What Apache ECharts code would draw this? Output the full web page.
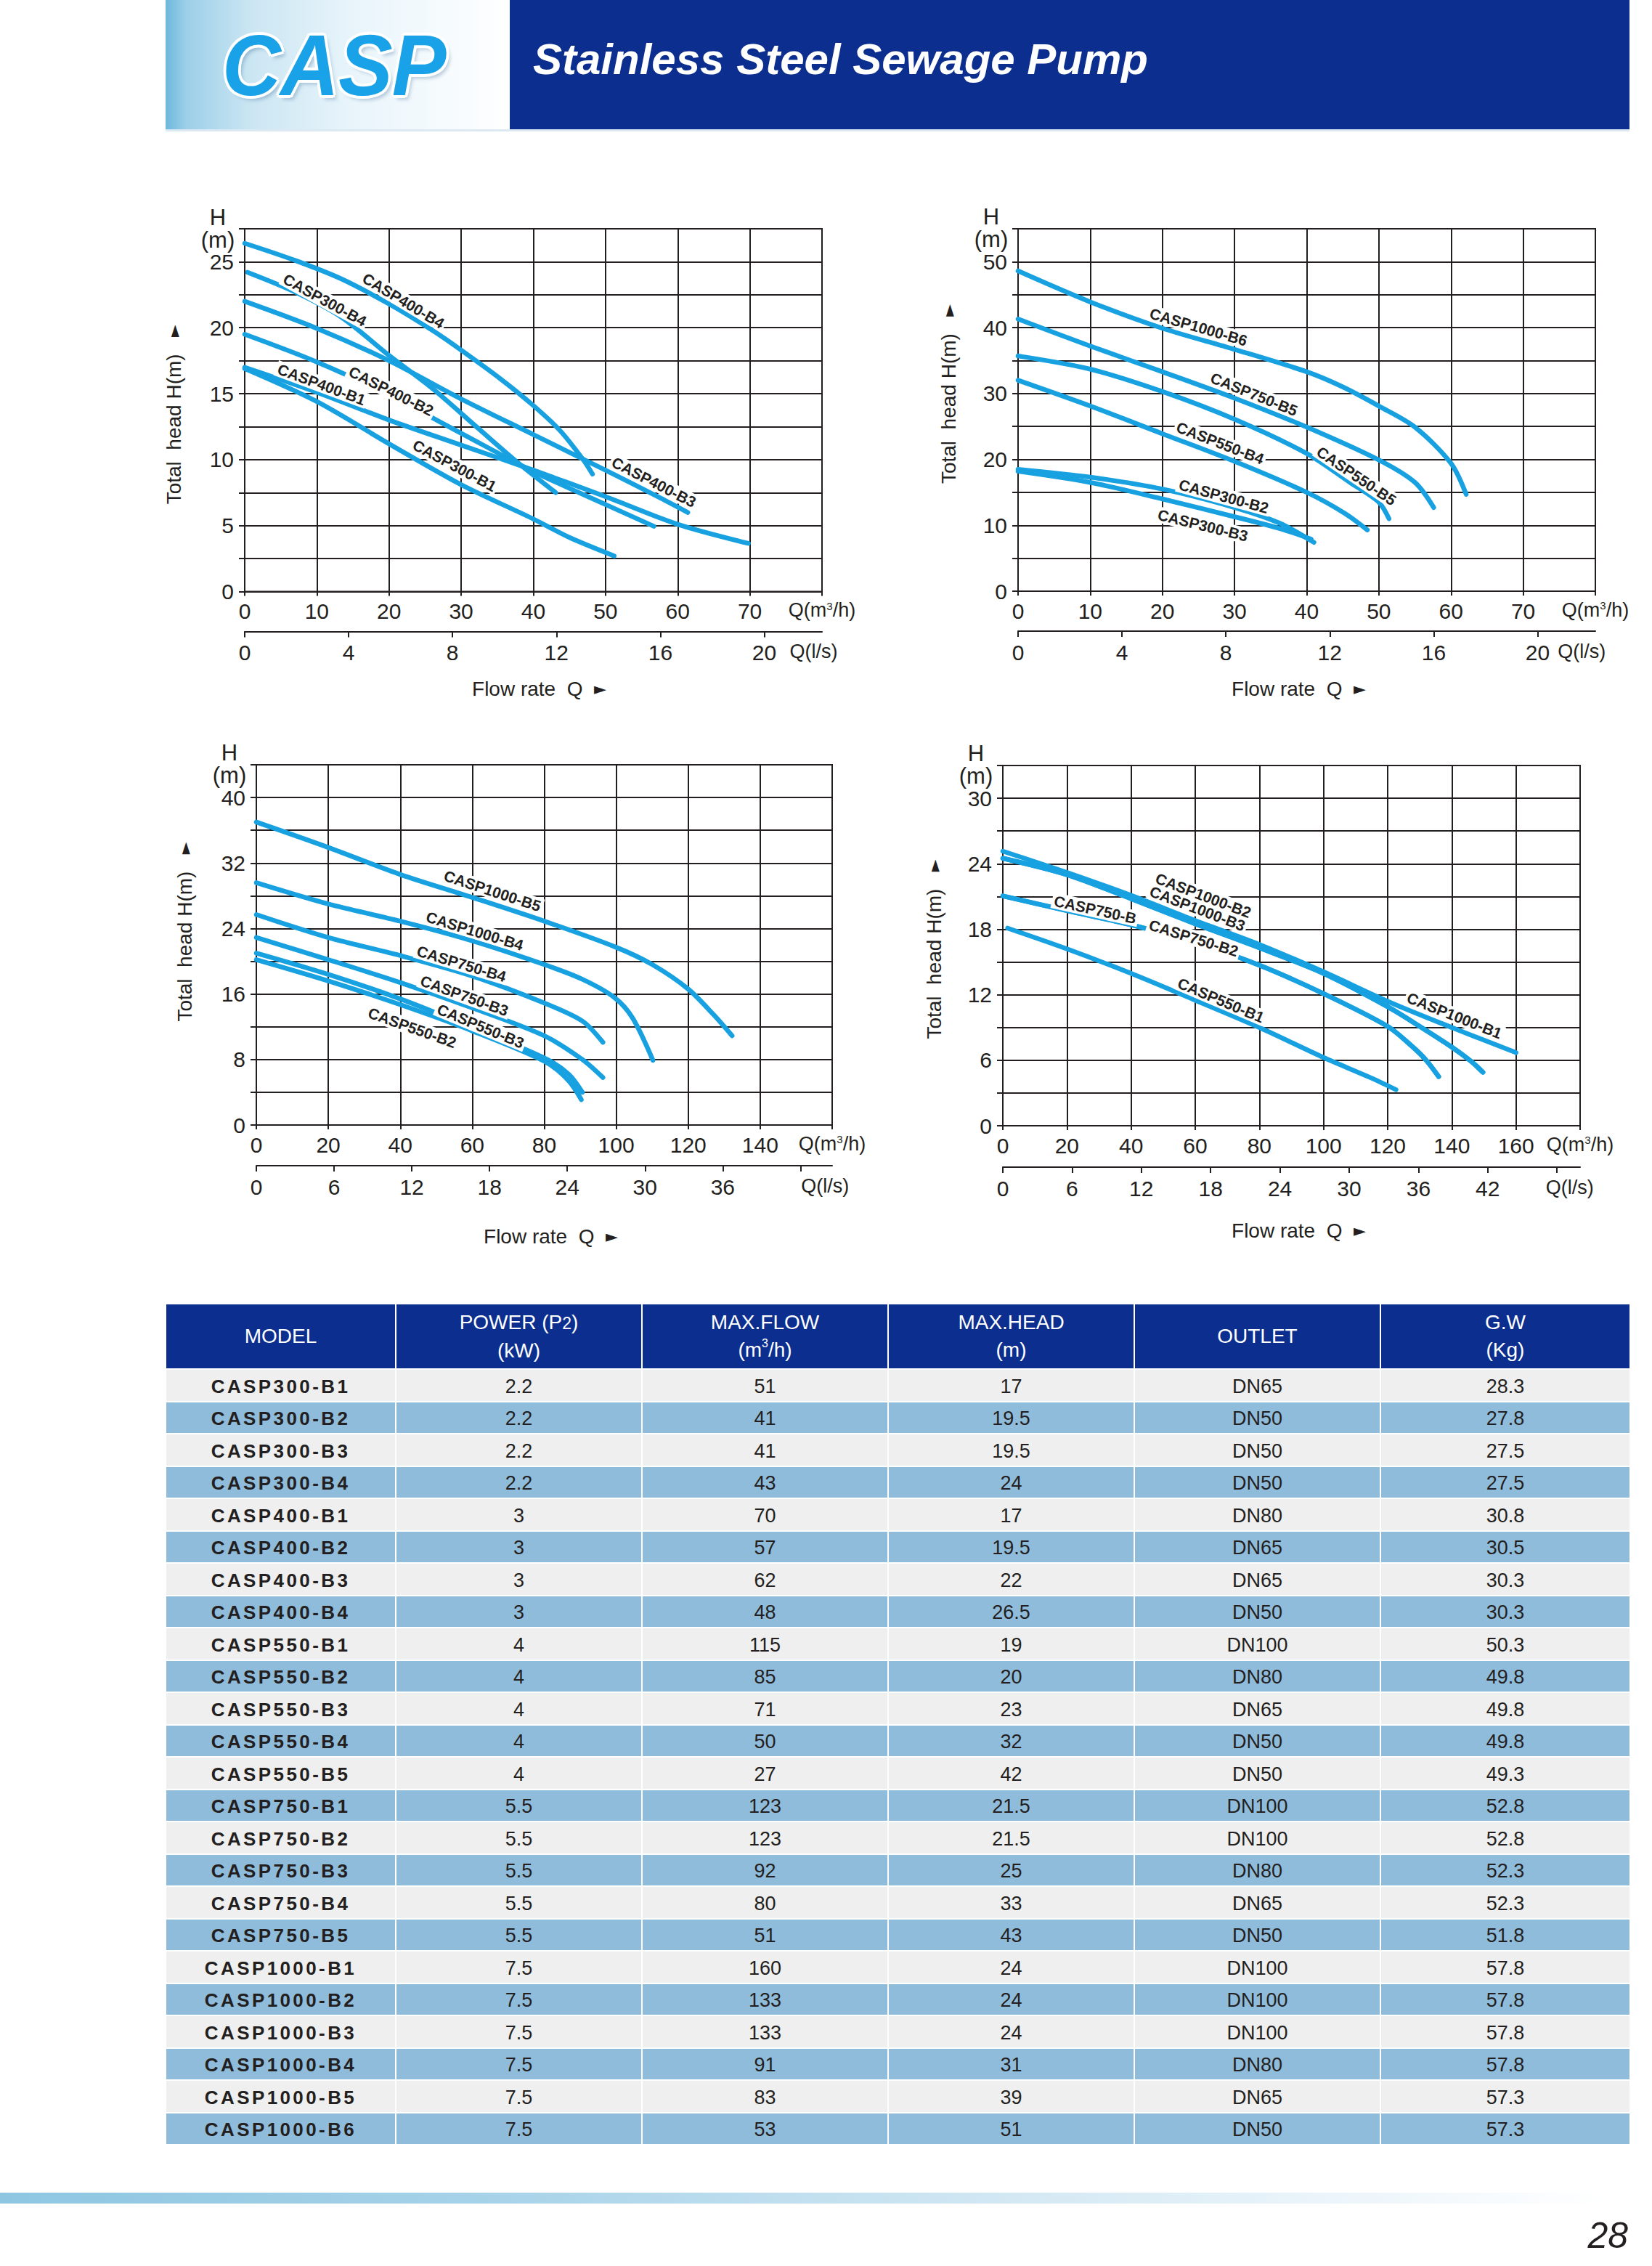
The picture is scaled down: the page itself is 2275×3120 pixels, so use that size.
<!DOCTYPE html>
<html><head><meta charset="utf-8">
<script src="https://cdn.jsdelivr.net/npm/echarts@6/dist/echarts.min.js"></script>
<style>
html,body{margin:0;padding:0;background:#fff;}
#page{position:relative;width:2275px;height:3120px;overflow:hidden;font-family:'Liberation Sans',Arial,Helvetica,sans-serif;color:#231f20;}
.hgrad{position:absolute;left:228px;top:0;width:474px;height:178px;background:linear-gradient(90deg,#6db7dc 0%,#9ccfe8 6%,#cbe6f3 25%,#e9f5fb 55%,#ffffff 100%);}
.hbar{position:absolute;left:702px;top:0;width:1542px;height:178px;background:#0c2f8f;}
.hline{position:absolute;left:228px;top:178px;width:2016px;height:3px;background:#dce8f2;}
.casp{position:absolute;left:306px;top:32px;font-size:118px;line-height:116px;font-weight:bold;font-style:italic;color:#1aa2e8;letter-spacing:-1px;transform:scaleX(0.95);transform-origin:left top;
 text-shadow:4px 0 0 #fff,-4px 0 0 #fff,0 4px 0 #fff,0 -4px 0 #fff,3px 3px 0 #fff,-3px -3px 0 #fff,3px -3px 0 #fff,-3px 3px 0 #fff,5px 6px 6px rgba(0,60,120,0.25);}
.htitle{position:absolute;left:734px;top:52px;font-size:60px;line-height:60px;font-weight:bold;font-style:italic;color:#fff;white-space:nowrap;}
#chart{position:absolute;left:0;top:0;width:2275px;height:1760px;}
#tbl{position:absolute;left:229px;top:1796px;width:2015px;display:grid;grid-template-columns:315px 337px 337px 337px 337px 342px;grid-template-rows:88px repeat(24,42.5px);gap:2px;background:#fff;}
.th{background:#0c2f8f;color:#fff;font-size:28px;line-height:38px;display:flex;align-items:center;justify-content:center;text-align:center;}
.th .p2{font-size:23px;}
.th sup{font-size:16px;vertical-align:top;line-height:16px;position:relative;top:2px;}
.td{display:flex;align-items:center;justify-content:center;font-size:27px;color:#231f20;padding-top:4px;box-sizing:border-box;}
.r0{background:#efefef;}
.r1{background:#90bcdc;}
.model{font-weight:bold;font-size:26px;letter-spacing:3.4px;}
.fbar{position:absolute;left:0;top:3019px;width:2215px;height:15px;background:linear-gradient(90deg,#8ec6e1 0%,#a6d2e8 30%,#cfe6f2 60%,#eef6fb 85%,#ffffff 100%);}
.pno{position:absolute;right:33px;top:3053px;font-size:50px;line-height:50px;font-style:italic;color:#231f20;}
</style></head>
<body><div id="page">
<div class="hgrad"></div>
<div class="casp">CASP</div>
<div class="hbar"></div>
<div class="hline"></div>
<div class="htitle">Stainless Steel Sewage Pump</div>
<div id="chart"></div>
<div id="tbl"></div>
<div class="fbar"></div>
<div class="pno">28</div>
</div>
<script>
// ---------------- DATA ----------------
// Chart 1 (top-left): Q m3/h vs H m
const c1_CASP400_B4 = [[0,26.4],[7,25.1],[13.4,23.7],[20,21.8],[26,19.8],[30,18.3],[35.5,16.1],[40,14.1],[43.7,12.2],[46.9,10.0],[48.2,8.9]];
const c1_CASP300_B4 = [[0.4,24.2],[7,22.7],[13.4,20.8],[20,17.9],[26,15.4],[32.3,12.4],[38,9.7],[43.1,7.5]];
const c1_CASP400_B3 = [[0,22.0],[10,19.95],[20,17.5],[30,14.6],[40,11.9],[50,9.2],[57.6,7.1],[61.4,6.0]];
const c1_CASP400_B2 = [[0,19.5],[10,17.4],[20,14.9],[30,12.0],[40,9.1],[50,6.6],[56.7,4.95]];
const c1_CASP400_B1 = [[0,17.0],[10,15.1],[20,13.0],[30,11.1],[40,9.2],[50,7.2],[60,5.1],[69.8,3.65]];
const c1_CASP300_B1 = [[0,16.9],[10,14.4],[20,11.2],[30,8.1],[40,5.5],[45,4.1],[51.2,2.7]];
// Chart 2 (top-right)
const c2_CASP1000_B6 = [[0,48.6],[10,43.9],[20,39.9],[30,36.7],[40,33.3],[45,31.0],[50,28.1],[55,24.9],[60,19.4],[62.1,14.7]];
const c2_CASP750_B5 = [[0,41.3],[10,37.2],[20,33.3],[30,29.3],[40,24.9],[50,19.9],[55,16.5],[57.6,12.7]];
const c2_CASP550_B5 = [[0,35.7],[10,33.7],[20,30.3],[30,26.1],[40,20.9],[46,16.5],[50,13.5],[51.4,11.0]];
const c2_CASP550_B4 = [[0,32.0],[10,28.1],[20,23.9],[30,19.7],[40,15.0],[45.3,11.8],[48.4,9.3]];
const c2_CASP300_B2 = [[0,18.5],[10,17.3],[20,15.5],[30,12.7],[36.3,10.3],[41,7.4]];
const c2_CASP300_B3 = [[0,18.2],[10,16.5],[20,14.0],[30,11.3],[36.3,9.5],[40.6,7.9]];
// Chart 3 (bottom-left)
const c3_CASP1000_B5 = [[0,37.0],[20,33.9],[40,30.6],[60,27.8],[80,24.9],[100,21.7],[110,19.6],[120,16.6],[127,13.5],[132.2,10.9]];
const c3_CASP1000_B4 = [[0,29.6],[20,27.0],[40,24.9],[60,22.5],[80,19.6],[90.6,17.8],[99.4,15.6],[104.5,13.1],[110.2,7.9]];
const c3_CASP750_B4 = [[0,25.7],[20,22.9],[40,20.7],[60,18.2],[80,14.9],[90.6,12.7],[96.3,10.1]];
const c3_CASP750_B3 = [[0,22.9],[20,20.2],[40,17.4],[60,14.3],[80,10.9],[90.6,8.0],[96.3,5.8]];
const c3_CASP550_B3 = [[0,21.0],[20,18.4],[40,15.4],[60,11.9],[80,8.2],[86.8,6.2],[90.6,4.0]];
const c3_CASP550_B2 = [[0,20.2],[20,17.6],[40,14.7],[60,11.5],[80,7.8],[86.8,5.4],[90.3,3.1]];
// Chart 4 (bottom-right)
const c4_CASP1000_B1 = [[0,25.15],[20,23.2],[40,21.1],[60,18.8],[80,16.6],[100,14.1],[120,11.4],[140,9.0],[160,6.7]];
const c4_CASP1000_B2 = [[0,24.5],[20,23.0],[40,20.8],[60,18.5],[80,16.3],[100,13.95],[120,10.9],[130,9.1],[140,7.2],[146,5.9],[149.7,4.9]];
const c4_CASP1000_B3 = c4_CASP1000_B2;
const c4_CASP750_B1 = [[0,21.05],[20,19.7],[40,18.4],[60,16.8],[80,14.7],[100,12.1],[120,9.1],[127.5,7.3],[132,6.0],[135.9,4.5]];
const c4_CASP750_B2 = c4_CASP750_B1;
const c4_CASP550_B1 = [[1.5,18.1],[20,16.2],[40,13.95],[60,11.5],[80,9.0],[100,6.25],[114.7,4.4],[122.6,3.3]];

// curve label anchors: [text, series, x, y]
const c1Labels = [['CASP400-B4','CASP400-B4',22.0,22.05],['CASP300-B4','CASP300-B4',11.1,22.1],['CASP400-B2','CASP400-B2',20.3,15.2],['CASP400-B1','CASP400-B1',10.65,15.7],['CASP300-B1','CASP300-B1',29.1,9.55],['CASP400-B3','CASP400-B3',56.7,8.3]];
const c2Labels = [['CASP1000-B6','CASP1000-B6',25.0,40.1],['CASP750-B5','CASP750-B5',32.7,29.9],['CASP550-B4','CASP550-B4',28.0,22.5],['CASP550-B5','CASP550-B5',46.9,17.5],['CASP300-B2','CASP300-B2',28.5,14.4],['CASP300-B3','CASP300-B3',25.6,10.0]];
const c3Labels = [['CASP1000-B5','CASP1000-B5',65.6,28.6],['CASP1000-B4','CASP1000-B4',60.7,23.7],['CASP750-B4','CASP750-B4',57.0,19.7],['CASP750-B3','CASP750-B3',57.8,15.8],['CASP550-B3','CASP550-B3',62.3,12.1],['CASP550-B2','CASP550-B2',43.3,11.9]];
const c4Labels = [['CASP1000-B2','CASP1000-B2',62.5,21.1],['CASP1000-B3','CASP1000-B3',60.7,19.9],['CASP750-B','CASP750-B1',28.8,19.8],['CASP750-B2','CASP750-B2',59.5,17.2],['CASP550-B1','CASP550-B1',68.0,11.5],['CASP1000-B1','CASP1000-B1',140.8,10.1]];

// table data
const models = ['CASP300-B1','CASP300-B2','CASP300-B3','CASP300-B4','CASP400-B1','CASP400-B2','CASP400-B3','CASP400-B4','CASP550-B1','CASP550-B2','CASP550-B3','CASP550-B4','CASP550-B5','CASP750-B1','CASP750-B2','CASP750-B3','CASP750-B4','CASP750-B5','CASP1000-B1','CASP1000-B2','CASP1000-B3','CASP1000-B4','CASP1000-B5','CASP1000-B6'];
const power = ['2.2','2.2','2.2','2.2','3','3','3','3','4','4','4','4','4','5.5','5.5','5.5','5.5','5.5','7.5','7.5','7.5','7.5','7.5','7.5'];
const maxFlow = ['51','41','41','43','70','57','62','48','115','85','71','50','27','123','123','92','80','51','160','133','133','91','83','53'];
const maxHead = ['17','19.5','19.5','24','17','19.5','22','26.5','19','20','23','32','42','21.5','21.5','25','33','43','24','24','24','31','39','51'];
const outlet = ['DN65','DN50','DN50','DN50','DN80','DN65','DN65','DN50','DN100','DN80','DN65','DN50','DN50','DN100','DN100','DN80','DN65','DN50','DN100','DN100','DN100','DN80','DN65','DN50'];
const gw = ['28.3','27.8','27.5','27.5','30.8','30.5','30.3','30.3','50.3','49.8','49.8','49.8','49.3','52.8','52.8','52.3','52.3','51.8','57.8','57.8','57.8','57.8','57.3','57.3'];
const headers = ['MODEL','POWER (P<span class="p2">2</span>)<br>(kW)','MAX.FLOW<br>(m<sup>3</sup>/h)','MAX.HEAD<br>(m)','OUTLET','G.W<br>(Kg)'];

// ---------------- LAYOUT ----------------
const charts = [
 {grid:{left:337,top:315,width:795,height:499.5}, xMax:80, xInt:10, yMax:27.5, yInt:2.5, yStep:5, lsInt:4, lsTickMax:20, lsLabelMax:20, lsQ:21.9, lsOffset:55,
  curves:[['CASP400-B4',c1_CASP400_B4],['CASP300-B4',c1_CASP300_B4],['CASP400-B3',c1_CASP400_B3],['CASP400-B2',c1_CASP400_B2],['CASP400-B1',c1_CASP400_B1],['CASP300-B1',c1_CASP300_B1]],
  labels:c1Labels, yTitle:[-98,6], flow:[8,133.5]},
 {grid:{left:1402,top:315,width:795,height:499}, xMax:80, xInt:10, yMax:55, yInt:5, yStep:10, lsInt:4, lsTickMax:20, lsLabelMax:20, lsQ:21.7, lsOffset:55,
  curves:[['CASP1000-B6',c2_CASP1000_B6],['CASP750-B5',c2_CASP750_B5],['CASP550-B5',c2_CASP550_B5],['CASP550-B4',c2_CASP550_B4],['CASP300-B2',c2_CASP300_B2],['CASP300-B3',c2_CASP300_B3]],
  labels:c2Labels, yTitle:[-96,-22], flow:[-11,134]},
 {grid:{left:353,top:1053,width:793,height:496}, xMax:160, xInt:20, yMax:44, yInt:4, yStep:8, lsInt:6, lsTickMax:42, lsLabelMax:36, lsQ:43.9, lsOffset:56,
  curves:[['CASP1000-B5',c3_CASP1000_B5],['CASP1000-B4',c3_CASP1000_B4],['CASP750-B4',c3_CASP750_B4],['CASP750-B3',c3_CASP750_B3],['CASP550-B3',c3_CASP550_B3],['CASP550-B2',c3_CASP550_B2]],
  labels:c3Labels, yTitle:[-99,-18], flow:[9,153]},
 {grid:{left:1381,top:1054,width:795,height:496}, xMax:180, xInt:20, yMax:33, yInt:3, yStep:6, lsInt:6, lsTickMax:48, lsLabelMax:42, lsQ:49.1, lsOffset:57,
  curves:[['CASP1000-B1',c4_CASP1000_B1],['CASP1000-B2',c4_CASP1000_B2],['CASP1000-B3',c4_CASP1000_B3],['CASP750-B1',c4_CASP750_B1],['CASP750-B2',c4_CASP750_B2],['CASP550-B1',c4_CASP550_B1]],
  labels:c4Labels, yTitle:[-95,5], flow:[10,144]}
];

const FONT = "'Liberation Sans', Arial, Helvetica, sans-serif";
const INK = '#231f20';
const BLUE = '#17a1e1';
const lineSt = {color:INK, width:2};
const rich = {q:{fontSize:27, fontFamily:FONT, color:INK}, s:{fontSize:15, fontFamily:FONT, color:INK, verticalAlign:'top', lineHeight:18}};

function interp(d, x){
  if (x <= d[0][0]) return d[0][1];
  for (let k=1;k<d.length;k++){ if (x <= d[k][0]){ const a=d[k-1], b=d[k]; return a[1]+(b[1]-a[1])*(x-a[0])/(b[0]-a[0]); } }
  return d[d.length-1][1];
}
function slopeAt(d, x, h){
  const x0 = Math.max(d[0][0], x-h), x1 = Math.min(d[d.length-1][0], x+h);
  return (interp(d,x1)-interp(d,x0))/(x1-x0);
}

const option = {animation:false, grid:[], xAxis:[], yAxis:[], series:[], graphic:[]};
charts.forEach((c,i)=>{
  option.grid.push(Object.assign({show:true, borderColor:INK, borderWidth:2, containLabel:false}, c.grid));
  option.xAxis.push({gridIndex:i, type:'value', min:0, max:c.xMax, interval:c.xInt, position:'bottom',
    axisLine:{show:true, onZero:false, lineStyle:lineSt}, axisTick:{show:true, length:6, lineStyle:lineSt},
    splitLine:{show:true, lineStyle:lineSt},
    axisLabel:{color:INK, fontSize:30, fontFamily:FONT, margin:12, showMaxLabel:true, showMinLabel:true,
      formatter:v=> v===c.xMax ? '{q|Q(m}{s|3}{q|/h)}' : String(v), rich:rich}});
  const ticks=[], labs=[];
  for (let v=0; v<=c.lsTickMax+1e-9; v+=c.lsInt){ ticks.push(v); if (v<=c.lsLabelMax+1e-9) labs.push(v); }
  labs.push(c.lsQ);
  option.xAxis.push({gridIndex:i, type:'value', min:0, max:c.xMax/3.6, position:'bottom', offset:c.lsOffset,
    axisLine:{show:true, onZero:false, lineStyle:lineSt}, axisTick:{show:true, length:8, customValues:ticks, lineStyle:lineSt},
    splitLine:{show:false},
    axisLabel:{color:INK, fontSize:30, fontFamily:FONT, margin:14, customValues:labs,
      formatter:v=> v > c.lsLabelMax+0.01 ? '{q|Q(l/s)}' : String(Math.round(v)), rich:rich}});
  option.yAxis.push({gridIndex:i, type:'value', min:0, max:c.yMax, interval:c.yInt,
    axisLine:{show:true, onZero:false, lineStyle:lineSt}, axisTick:{show:true, length:8, lineStyle:lineSt},
    splitLine:{show:true, lineStyle:lineSt},
    axisLabel:{color:INK, fontSize:30, fontFamily:FONT, margin:15, showMaxLabel:true,
      formatter:v=> (Math.abs(v % c.yStep) < 1e-9 ? String(v) : '')},
    name:'H\n(m)', nameLocation:'end', nameGap:-4,
    nameTextStyle:{fontSize:31, lineHeight:31, color:INK, fontFamily:FONT, align:'center', verticalAlign:'middle', padding:[0,74,0,0]}});
  const pxX = c.grid.width/c.xMax, pxY = c.grid.height/c.yMax;
  c.curves.forEach(([name,data])=>{
    const mine = c.labels.filter(l=>l[1]===name);
    const s = {type:'line', name:name, xAxisIndex:2*i, yAxisIndex:i, data:data, showSymbol:false, symbol:'none',
      smooth:0.3, silent:true, z:3,
      lineStyle:{color:BLUE, width:6.5, cap:'round', join:'round'}, itemStyle:{color:BLUE}};
    if (mine.length){
      s.markPoint = {symbol:'rect', symbolSize:[1,1], silent:true, itemStyle:{color:'rgba(0,0,0,0)'},
        label:{show:true, position:'inside', formatter:'{b}', fontSize:21, fontWeight:'bold', fontFamily:FONT, color:INK,
          backgroundColor:'#ffffff', padding:[1,3,0,3]},
        data: mine.map(l=>{
          const sl = slopeAt(data, l[2], c.xMax*0.03);
          const ang = Math.atan(sl*pxY/pxX)*180/Math.PI;
          return {name:l[0], coord:[l[2], l[3]], label:{rotate:ang}};
        })};
    }
    option.series.push(s);
  });
  const g = c.grid;
  option.graphic.push({type:'text', x:g.left + c.yTitle[0], y:g.top + g.height/2 + c.yTitle[1], rotation:Math.PI/2, silent:true,
    style:{text:'Total  head H(m)   {a|►}', fontSize:28, fontFamily:FONT, fill:INK, align:'center', verticalAlign:'middle',
      rich:{a:{fontSize:22, fontFamily:'DejaVu Sans', fill:INK}}}});
  option.graphic.push({type:'text', x:g.left + g.width/2 + c.flow[0], y:g.top + g.height + c.flow[1], silent:true,
    style:{text:'Flow rate  Q  {a|►}', fontSize:28, fontFamily:FONT, fill:INK, align:'center', verticalAlign:'middle',
      rich:{a:{fontSize:22, fontFamily:'DejaVu Sans', fill:INK}}}});
});

const chart = echarts.init(document.getElementById('chart'), null, {renderer:'svg'});
chart.setOption(option);

// ---------------- TABLE ----------------
const tbl = document.getElementById('tbl');
let html = headers.map(h=>'<div class="th"><div>'+h+'</div></div>').join('');
const cols = [models, power, maxFlow, maxHead, outlet, gw];
models.forEach((m,r)=>{
  cols.forEach((col,ci)=>{
    html += '<div class="td r'+(r%2)+(ci===0?' model':'')+'"><span>'+col[r]+'</span></div>';
  });
});
tbl.innerHTML = html;
</script>
</body></html>
